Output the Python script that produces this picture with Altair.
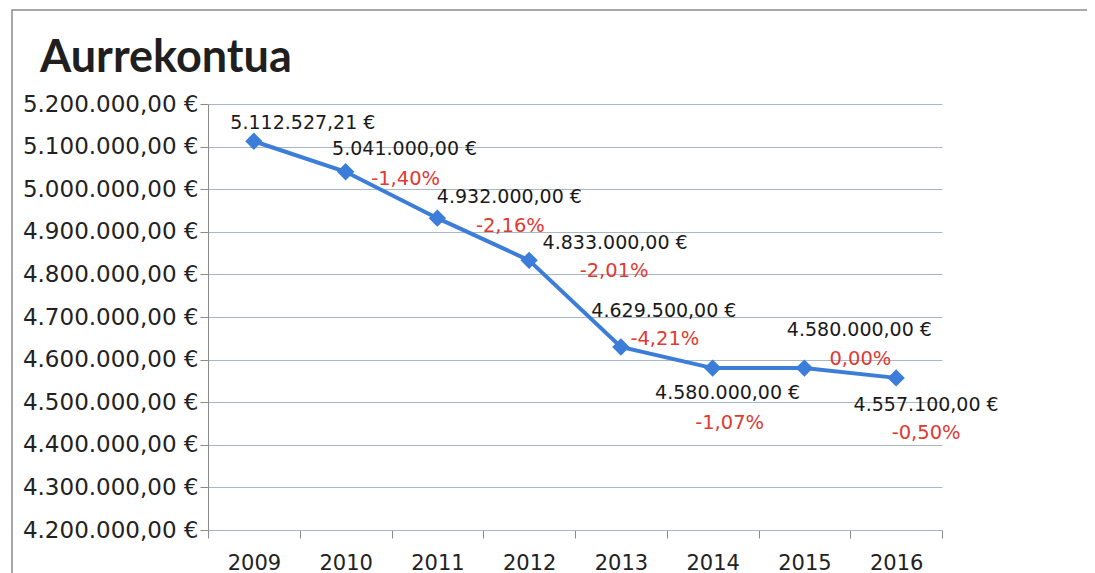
import altair as alt
import pandas as pd

# ---- data ----
years = ["2009", "2010", "2011", "2012", "2013", "2014", "2015", "2016"]
values = [5112527.21, 5041000.00, 4932000.00, 4833000.00, 4629500.00, 4580000.00, 4580000.00, 4557100.00]
pct_change = [None, -1.40, -2.16, -2.01, -4.21, -1.07, 0.00, -0.50]
y_ticks = [4200000, 4300000, 4400000, 4500000, 4600000, 4700000, 4800000, 4900000, 5000000, 5100000, 5200000]
title_text = "Aurrekontua"

# ---- label placement (pixels, relative to each point) ----
val_dx = [49, 59, 72, 86, 43, 15, 55, 30]
val_dy = [-18, -23, -21, -17, -36, 25, -38, 27]
pct_dx = [0, 60, 73, 85, 44, 17, 56, 30]
pct_dy = [0, 7, 8, 11, -8, 55, -9, 55]


def eur(v):
    s = f"{v:,.2f}"
    s = s.replace(",", "#").replace(".", ",").replace("#", ".")
    return s + " €"


def pct_str(p):
    return f"{p:.2f}".replace(".", ",") + "%"


df = pd.DataFrame({
    "year": years,
    "value": values,
    "vlabel": [eur(v) for v in values],
    "plabel": [pct_str(p) if p is not None else "" for p in pct_change],
})

FONT = "DejaVu Sans"
LINE_COLOR = "#3b7dd8"
GRID = "#a9b7cb"
XS = alt.X("year:N", sort=years)

x_enc = alt.X("year:N", sort=years, title=None,
              scale=alt.Scale(paddingInner=0, paddingOuter=0),
              axis=alt.Axis(labelAngle=0, labelFont=FONT, labelFontSize=21,
                            labelColor="#222222", tickBand="extent", tickSize=8,
                            tickColor="#8a8a8a", domainColor=GRID, labelPadding=14,
                            grid=False))
y_enc = alt.Y("value:Q", title=None,
              scale=alt.Scale(domain=[4200000, 5200000], nice=False, zero=False),
              axis=alt.Axis(values=y_ticks, labelFont=FONT, labelFontSize=23,
                            labelColor="#222222", tickSize=8, tickColor="#8a8a8a",
                            domainColor="#8a8a8a", labelPadding=2,
                            gridColor=GRID, gridWidth=1.2,
                            labelExpr="replace(join(split(replace(format(datum.value, ',.2f'), '.', 'D'), ','), '.'), 'D', ',') + ' €'"))

base = alt.Chart(df)

line = base.mark_line(color=LINE_COLOR, strokeWidth=4).encode(x=x_enc, y=y_enc)
points = base.mark_point(shape="diamond", filled=True, color=LINE_COLOR, size=300, opacity=1).encode(
    x=XS, y="value:Q")

label_layers = []
for i, yr in enumerate(years):
    one = base.transform_filter(alt.datum.year == yr)
    label_layers.append(
        one.mark_text(font=FONT, fontSize=19, color="#1a1a1a", baseline="middle", align="center",
                      dx=val_dx[i], dy=val_dy[i]).encode(x=XS, y="value:Q", text="vlabel:N"))
    if pct_change[i] is not None:
        label_layers.append(
            one.mark_text(font=FONT, fontSize=19.5, color="#e03a33", baseline="middle", align="center",
                          dx=pct_dx[i], dy=pct_dy[i]).encode(x=XS, y="value:Q", text="plabel:N"))

title = alt.Chart(pd.DataFrame({"t": [title_text]})).mark_text(
    font="Lato", fontSize=45, fontWeight="bold", color="#1f1f1f", align="left", baseline="alphabetic"
).encode(x=alt.value(-168), y=alt.value(-32), text="t:N")

frame = alt.Chart(pd.DataFrame({"a": [0]})).mark_rect(
    fill=None, stroke="#8c8c8c", strokeWidth=1.5
).encode(x=alt.value(-196), x2=alt.value(900), y=alt.value(-94), y2=alt.value(520))

chart = alt.layer(frame, line, points, *label_layers, title).properties(
    width=734, height=426,
    autosize=alt.AutoSizeParams(type="none"),
    padding={"left": 200, "top": 96, "right": 145, "bottom": 45},
    background="white",
).configure_view(stroke=None)

chart.save("out.html", embed_options={"renderer": "svg", "actions": False})
